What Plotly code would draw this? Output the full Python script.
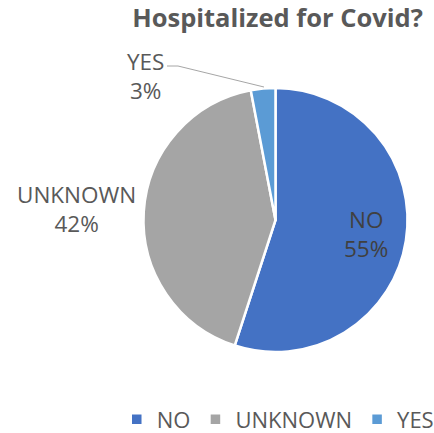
import plotly.graph_objects as go

categories = ["NO", "UNKNOWN", "YES"]
values = [55, 42, 3]
colors = ["#4472C4", "#A5A5A5", "#5B9BD5"]
title = "Hospitalized for Covid?"

W, H = 434, 433
cx, cy, r = 275.5, 220, 132

font = "'Open Sans', sans-serif"
txt = "#595959"

fig = go.Figure(go.Pie(
    labels=categories, values=values, sort=False, direction="clockwise", rotation=0,
    marker=dict(colors=colors, line=dict(color="white", width=2.5)),
    textinfo="none",
    domain=dict(x=[(cx - r) / W, (cx + r) / W], y=[1 - (cy + r) / H, 1 - (cy - r) / H]),
    hoverinfo="label+percent",
))

total = sum(values)
def lab(i):
    return f"{categories[i]}<br>{round(values[i] / total * 100)}%"

label_pos = [(366, 234, "#404040"), (76, 209, txt), (145, 75.5, txt)]
annotations = [
    dict(text=lab(i), x=px / W, y=1 - py / H, xref="paper", yref="paper", showarrow=False,
         xanchor="center", yanchor="middle",
         font=dict(family=font, size=22.5, color=c), align="center")
    for i, (px, py, c) in enumerate(label_pos)
]

fig.update_layout(
    width=W, height=H,
    margin=dict(l=0, r=0, t=0, b=0, autoexpand=False),
    paper_bgcolor="white",
    title=dict(text="<b>" + title + "</b>", x=277.5 / W, xanchor="center", y=1 - 18 / H, yanchor="middle",
               xref="container", yref="container",
               font=dict(family=font, size=25.5, color=txt)),
    showlegend=True,
    legend=dict(orientation="h", x=0.64, xanchor="center", y=1 - 419.5 / H, yanchor="middle",
                font=dict(family=font, size=22, color=txt), itemwidth=30, traceorder="normal"),
    annotations=annotations,
    shapes=[dict(type="path", path=f"M {167/W} {1-66/H} L {178/W} {1-66/H} L {264/W} {1-87/H}",
                 xref="paper", yref="paper", line=dict(color="#A6A6A6", width=1))],
)

fig.write_html("out.html", config={"displayModeBar": False},
               post_script="document.body.style.margin='0';document.body.style.overflow='hidden';")
